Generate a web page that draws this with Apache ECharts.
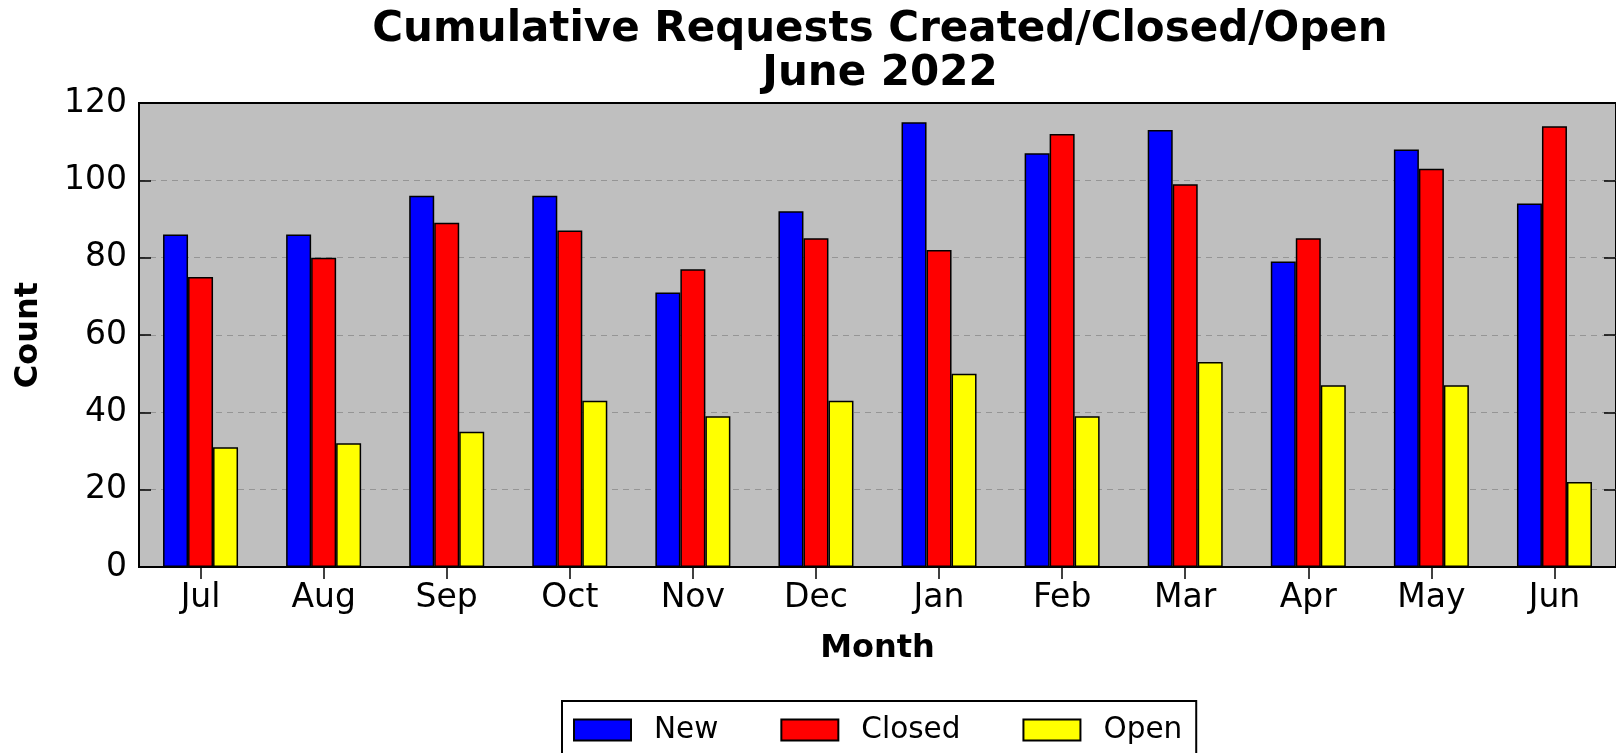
<!DOCTYPE html>
<html>
<head>
<meta charset="utf-8">
<script src="https://cdn.jsdelivr.net/npm/echarts@6/dist/echarts.min.js"></script>
<style>
html,body{margin:0;padding:0;background:#fff;}
#chart{width:1616px;height:753px;}
</style>
</head>
<body>
<div id="chart"></div>
<script>
const months = ['Jul','Aug','Sep','Oct','Nov','Dec','Jan','Feb','Mar','Apr','May','Jun'];
const newCounts    = [86, 86, 96, 96, 71, 92, 115, 107, 113, 79, 108, 94];
const closedCounts = [75, 80, 89, 87, 77, 85, 82, 112, 99, 85, 103, 114];
const openCounts   = [31, 32, 35, 43, 39, 43, 50, 39, 53, 47, 47, 22];
const titleLines = ['Cumulative Requests Created/Closed/Open', 'June 2022'];

const FONT = 'DejaVu Sans';
const chart = echarts.init(document.getElementById('chart'), null, {renderer: 'canvas'});

const barStyle = (color) => ({color: color, borderColor: '#000', borderWidth: 1.5});

chart.setOption({
  animation: false,
  backgroundColor: '#ffffff',
  graphic: [{
    type: 'text',
    x: 880, y: 30,
    style: {text: titleLines[0], font: 'bold 42px "DejaVu Sans"', fill: '#000', align: 'center', verticalAlign: 'middle'}
  }, {
    type: 'text',
    x: 880, y: 74,
    style: {text: titleLines[1], font: 'bold 42px "DejaVu Sans"', fill: '#000', align: 'center', verticalAlign: 'middle'}
  }],
  grid: {
    left: 139, top: 103, right: -6, bottom: 186,
    show: true, backgroundColor: '#bfbfbf', borderColor: '#000', borderWidth: 2
  },
  legend: {
    data: ['New', 'Closed', 'Open'],
    left: 562, top: 701,
    padding: [14, 14, 22, 11],
    itemGap: 62,
    itemWidth: 57, itemHeight: 21,
    icon: 'rect',
    borderColor: '#000', borderWidth: 2,
    backgroundColor: '#fff',
    textStyle: {fontFamily: FONT, fontSize: 29.5, color: '#000', padding: [0, 0, 0, 18]}
  },
  xAxis: [{
    type: 'category', data: months, position: 'bottom',
    name: 'Month', nameLocation: 'middle', nameGap: 66,
    nameTextStyle: {fontFamily: FONT, fontWeight: 'bold', fontSize: 32, color: '#000'},
    axisLine: {show: true, lineStyle: {color: '#000', width: 2}},
    axisTick: {show: true, inside: true, length: 12, alignWithLabel: true, lineStyle: {color: '#000', width: 1.5}},
    axisLabel: {fontFamily: FONT, fontSize: 33, color: '#000', margin: 15},
    splitLine: {show: false}
  }, {
    type: 'category', data: months, position: 'top',
    axisLine: {show: true, lineStyle: {color: '#000', width: 2}},
    axisTick: {show: true, inside: true, length: 12, alignWithLabel: true, lineStyle: {color: '#000', width: 1.5}},
    axisLabel: {show: false},
    splitLine: {show: false}
  }],
  yAxis: [{
    type: 'value', min: 0, max: 120, interval: 20, position: 'left',
    name: 'Count', nameLocation: 'middle', nameGap: 94, nameRotate: 90,
    nameTextStyle: {fontFamily: FONT, fontWeight: 'bold', fontSize: 32, color: '#000'},
    axisLine: {show: true, lineStyle: {color: '#000', width: 2}},
    axisTick: {show: true, inside: true, length: 12, lineStyle: {color: '#000', width: 1.5}},
    axisLabel: {fontFamily: FONT, fontSize: 33, color: '#000', margin: 12},
    splitLine: {show: true, showMinLine: false, showMaxLine: false, lineStyle: {color: '#959595', width: 1, type: [6, 5]}}
  }, {
    type: 'value', min: 0, max: 120, interval: 20, position: 'right',
    axisLine: {show: false},
    axisTick: {show: true, inside: true, length: 12, lineStyle: {color: '#000', width: 1.5}},
    axisLabel: {show: false},
    splitLine: {show: false}
  }],
  series: [{
    name: 'New', type: 'bar', data: newCounts, barWidth: 25, barGap: '0%',
    itemStyle: barStyle('#0000ff')
  }, {
    name: 'Closed', type: 'bar', data: closedCounts, barWidth: 25, barGap: '0%',
    itemStyle: barStyle('#ff0000')
  }, {
    name: 'Open', type: 'bar', data: openCounts, barWidth: 25, barGap: '0%',
    itemStyle: barStyle('#ffff00')
  }]
});
</script>
</body>
</html>
